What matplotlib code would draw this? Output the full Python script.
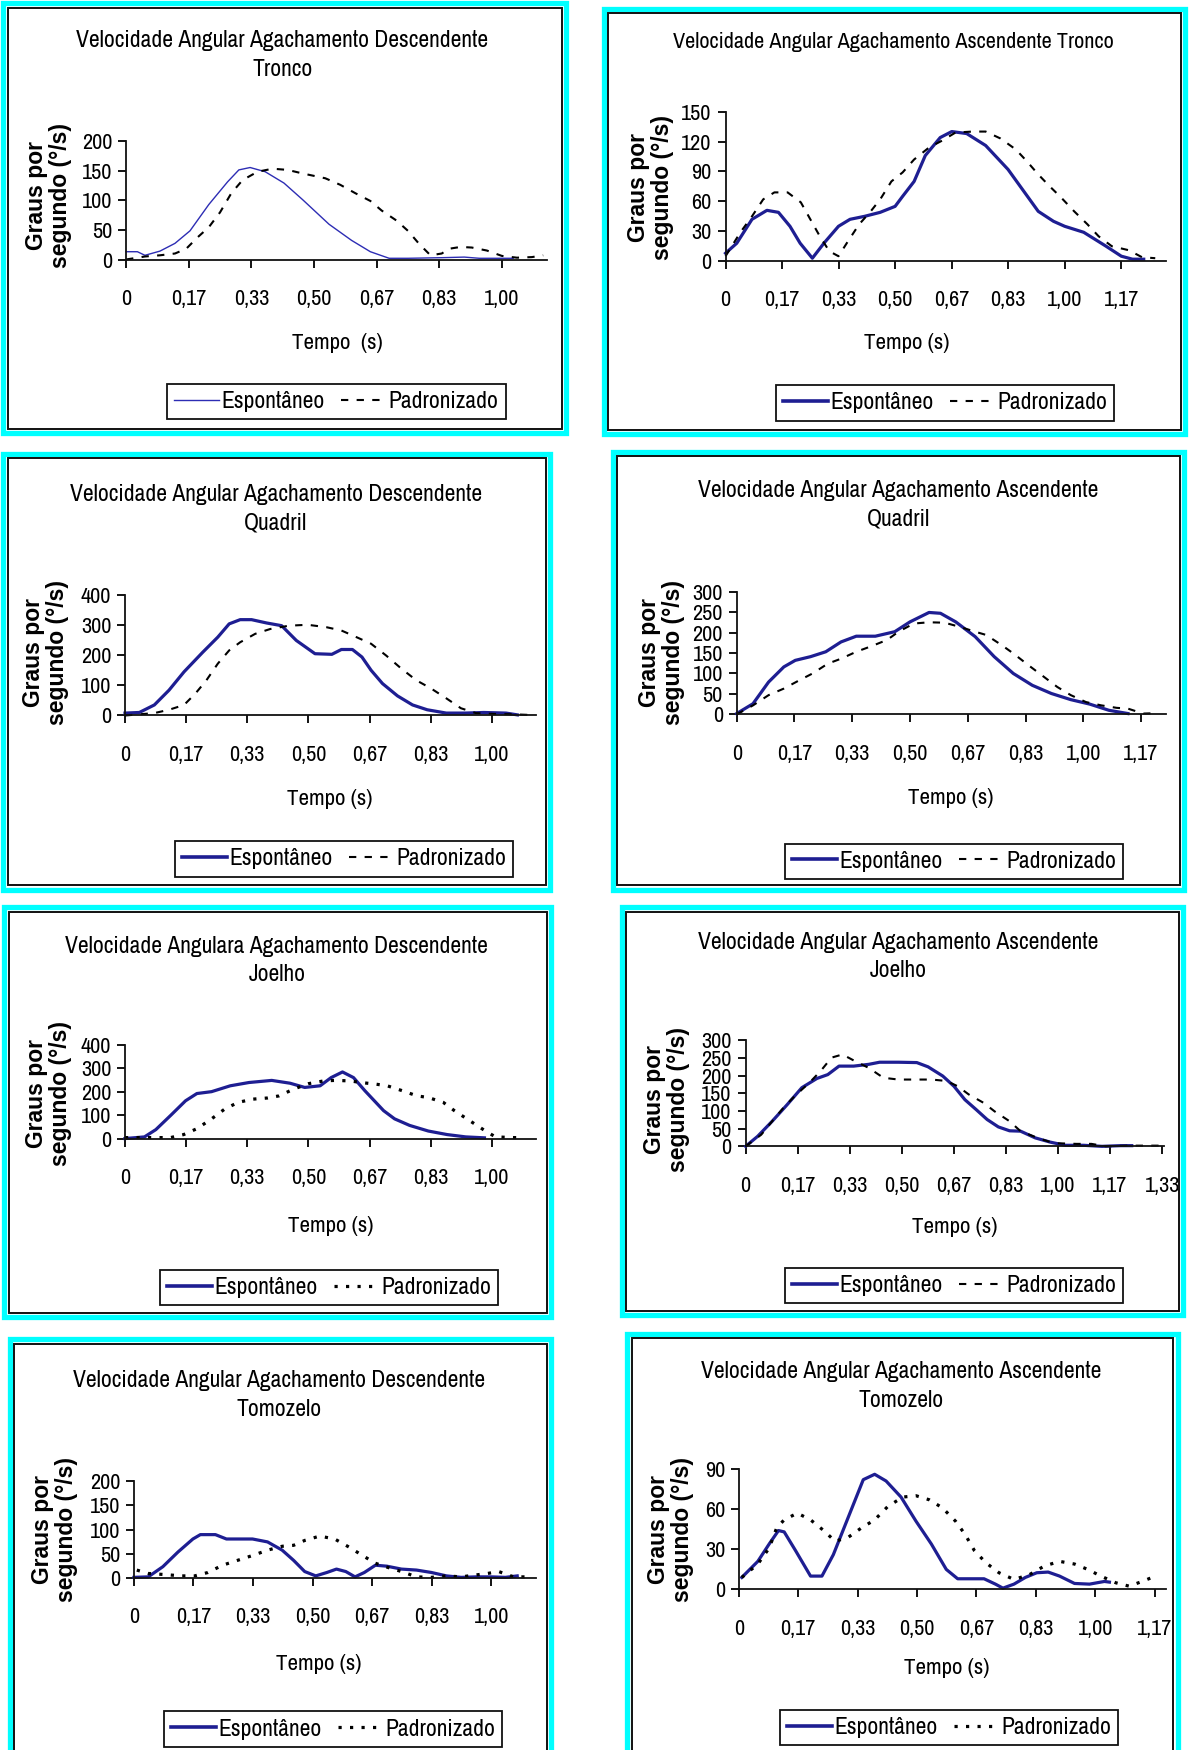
import matplotlib
matplotlib.use('Agg')
import matplotlib.pyplot as plt
from matplotlib import font_manager as fm
from matplotlib.patches import Rectangle
from matplotlib.lines import Line2D

# ---------------- data ----------------
TICK_LABELS = ['0', '0,17', '0,33', '0,50', '0,67', '0,83', '1,00', '1,17', '1,33']
SERIES_NAMES = ['Espontâneo', 'Padronizado']

TITLES = [
    'Velocidade Angular Agachamento Descendente\nTronco',
    'Velocidade Angular Agachamento Ascendente Tronco',
    'Velocidade Angular Agachamento Descendente\nQuadril',
    'Velocidade Angular Agachamento Ascendente\nQuadril',
    'Velocidade Angulara Agachamento Descendente\nJoelho',
    'Velocidade Angular Agachamento Ascendente\nJoelho',
    'Velocidade Angular Agachamento Descendente\nTomozelo',
    'Velocidade Angular Agachamento Ascendente\nTomozelo',
]
XLABELS = ['Tempo  (s)', 'Tempo (s)', 'Tempo (s)', 'Tempo (s)',
           'Tempo (s)', 'Tempo (s)', 'Tempo (s)', 'Tempo (s)']
YLABEL = 'Graus por\nsegundo (°/s)'

Y_MAX = [200, 150, 400, 300, 400, 300, 200, 90]
Y_STEP = [50, 30, 100, 50, 100, 50, 50, 30]
X_MAX = [1.12, 1.30, 1.12, 1.24, 1.12, 1.34, 1.125, 1.20]
N_XTICKS = [7, 8, 7, 8, 7, 9, 7, 8]

# Tronco descendente
TRONCO_DESC_ESP_T = [0.0, 0.03, 0.05, 0.09, 0.13, 0.17, 0.22, 0.27, 0.30, 0.33, 0.37, 0.42, 0.47, 0.54, 0.60, 0.65, 0.70, 0.75, 0.84, 0.90, 0.94, 1.03]
TRONCO_DESC_ESP_Y = [14, 14, 8, 15, 28, 49, 93, 131, 151, 155, 148, 129, 101, 60, 33, 14, 3, 3, 4, 5, 3, 3]
TRONCO_DESC_PAD_T = [0.0, 0.05, 0.09, 0.13, 0.16, 0.19, 0.22, 0.25, 0.28, 0.31, 0.35, 0.39, 0.43, 0.47, 0.53, 0.57, 0.61, 0.65, 0.68, 0.72, 0.75, 0.78, 0.81, 0.84, 0.86, 0.89, 0.92, 0.96, 1.00, 1.04, 1.08, 1.11]
TRONCO_DESC_PAD_Y = [1, 6, 8, 11, 19, 38, 55, 80, 112, 134, 148, 153, 151, 145, 137, 126, 112, 99, 83, 66, 49, 27, 8, 11, 19, 22, 21, 16, 7, 4, 5, 8]

# Tronco ascendente
TRONCO_ASC_ESP_T = [0, 0.033, 0.078, 0.122, 0.156, 0.19, 0.22, 0.256, 0.29, 0.333, 0.367, 0.41, 0.456, 0.5, 0.522, 0.556, 0.589, 0.633, 0.667, 0.711, 0.767, 0.833, 0.922, 0.967, 1.0, 1.056, 1.122, 1.167, 1.2, 1.233]
TRONCO_ASC_ESP_Y = [8, 18, 42, 51, 49, 35, 18, 3, 18, 35, 42, 45, 49, 55, 65, 80, 106, 124, 130, 128, 116, 92, 50, 40, 35, 29, 15, 5, 2, 2]
TRONCO_ASC_PAD_T = [0, 0.044, 0.078, 0.111, 0.144, 0.183, 0.222, 0.25, 0.278, 0.306, 0.333, 0.361, 0.394, 0.428, 0.456, 0.489, 0.522, 0.556, 0.6, 0.639, 0.678, 0.728, 0.767, 0.811, 0.856, 0.889, 0.922, 0.956, 0.989, 1.028, 1.067, 1.1, 1.139, 1.189, 1.228, 1.267]
TRONCO_ASC_PAD_Y = [5, 29, 45, 62, 69, 69, 59, 42, 25, 10, 5, 20, 37, 50, 62, 80, 89, 102, 114, 121, 129, 130, 130, 123, 112, 100, 87, 75, 64, 50, 37, 25, 15, 11, 4, 3]

# Quadril descendente
QUADRIL_DESC_ESP_T = [0, 0.039, 0.08, 0.12, 0.161, 0.212, 0.253, 0.284, 0.314, 0.345, 0.386, 0.427, 0.467, 0.518, 0.564, 0.59, 0.62, 0.646, 0.671, 0.702, 0.743, 0.784, 0.824, 0.876, 0.927, 0.978, 1.039, 1.07]
QUADRIL_DESC_ESP_Y = [8, 10, 35, 84, 145, 210, 260, 304, 318, 318, 307, 298, 249, 205, 203, 219, 219, 194, 150, 106, 65, 35, 19, 8, 8, 10, 8, 2]
QUADRIL_DESC_PAD_T = [0, 0.08, 0.12, 0.161, 0.192, 0.222, 0.253, 0.284, 0.314, 0.355, 0.396, 0.447, 0.498, 0.549, 0.59, 0.631, 0.671, 0.712, 0.753, 0.794, 0.834, 0.876, 0.916, 0.957, 1.008, 1.059, 1.1]
QUADRIL_DESC_PAD_Y = [0, 8, 19, 35, 73, 117, 172, 216, 243, 271, 287, 298, 301, 293, 282, 260, 238, 199, 156, 117, 90, 57, 24, 8, 5, 4, 2]

# Quadril ascendente
QUADRIL_ASC_ESP_T = [0, 0.047, 0.092, 0.136, 0.169, 0.213, 0.257, 0.301, 0.345, 0.4, 0.456, 0.5, 0.555, 0.588, 0.632, 0.688, 0.743, 0.798, 0.853, 0.908, 0.964, 1.019, 1.074, 1.129]
QUADRIL_ASC_ESP_Y = [2, 26, 79, 116, 132, 141, 153, 177, 191, 191, 202, 226, 249, 247, 226, 190, 141, 100, 71, 51, 36, 25, 10, 2]
QUADRIL_ASC_PAD_T = [0, 0.047, 0.092, 0.136, 0.18, 0.219, 0.263, 0.301, 0.345, 0.39, 0.434, 0.467, 0.511, 0.555, 0.6, 0.643, 0.688, 0.72, 0.765, 0.798, 0.842, 0.886, 0.925, 0.964, 1.008, 1.052, 1.096, 1.129, 1.173, 1.217]
QUADRIL_ASC_PAD_Y = [0, 22, 47, 63, 83, 100, 124, 136, 153, 167, 182, 202, 222, 225, 224, 214, 202, 194, 169, 149, 120, 92, 67, 47, 30, 22, 16, 14, 2, 3]

# Joelho descendente
JOELHO_DESC_ESP_T = [0, 0.053, 0.084, 0.124, 0.165, 0.196, 0.236, 0.287, 0.338, 0.4, 0.45, 0.49, 0.532, 0.562, 0.593, 0.623, 0.654, 0.684, 0.705, 0.735, 0.776, 0.827, 0.878, 0.929, 0.98]
JOELHO_DESC_ESP_Y = [0, 7, 38, 98, 161, 192, 200, 225, 239, 248, 236, 218, 225, 260, 284, 260, 204, 154, 119, 84, 56, 32, 17, 7, 3]
JOELHO_DESC_PAD_T = [0, 0.084, 0.124, 0.16, 0.196, 0.236, 0.272, 0.308, 0.348, 0.389, 0.42, 0.46, 0.5, 0.542, 0.572, 0.613, 0.643, 0.684, 0.715, 0.756, 0.796, 0.827, 0.868, 0.898, 0.939, 0.98, 1.01, 1.06, 1.08]
JOELHO_DESC_PAD_Y = [4, 4, 4, 17, 42, 84, 126, 154, 168, 173, 182, 211, 234, 246, 248, 246, 239, 232, 225, 204, 182, 175, 154, 119, 77, 35, 7, 4, 4]

# Joelho ascendente
JOELHO_ASC_ESP_T = [0, 0.038, 0.085, 0.133, 0.18, 0.228, 0.263, 0.299, 0.346, 0.394, 0.429, 0.489, 0.548, 0.584, 0.631, 0.667, 0.702, 0.738, 0.773, 0.809, 0.845, 0.88, 0.927, 0.975, 1.023, 1.082, 1.141, 1.2, 1.236]
JOELHO_ASC_ESP_Y = [0, 28, 71, 118, 166, 192, 203, 227, 227, 232, 238, 238, 237, 225, 199, 170, 132, 104, 76, 55, 44, 43, 24, 12, 3, 3, 0, 2, 2]
JOELHO_ASC_PAD_T = [0, 0.05, 0.085, 0.121, 0.157, 0.204, 0.24, 0.275, 0.31, 0.346, 0.394, 0.441, 0.489, 0.536, 0.595, 0.643, 0.679, 0.714, 0.762, 0.797, 0.845, 0.88, 0.94, 0.987, 1.059, 1.107, 1.153, 1.224, 1.33]
JOELHO_ASC_PAD_Y = [0, 33, 71, 109, 142, 180, 213, 251, 260, 243, 222, 194, 189, 189, 189, 185, 170, 147, 123, 99, 71, 43, 22, 9, 7, 7, 0, 2, 2]

# Tornozelo descendente
TORNOZELO_DESC_ESP_T = [0, 0.04, 0.081, 0.123, 0.165, 0.186, 0.228, 0.259, 0.332, 0.374, 0.415, 0.447, 0.478, 0.509, 0.54, 0.567, 0.593, 0.619, 0.645, 0.676, 0.708, 0.749, 0.791, 0.833, 0.875, 0.916, 0.958, 1.0, 1.04, 1.073]
TORNOZELO_DESC_ESP_Y = [2, 3, 24, 54, 81, 90, 90, 81, 81, 75, 58, 37, 14, 5, 12, 19, 14, 3, 12, 27, 25, 19, 17, 12, 5, 2, 3, 3, 2, 5]
TORNOZELO_DESC_PAD_T = [0.008, 0.04, 0.081, 0.134, 0.17, 0.207, 0.248, 0.29, 0.332, 0.374, 0.415, 0.447, 0.478, 0.52, 0.562, 0.603, 0.64, 0.676, 0.713, 0.749, 0.791, 0.833, 0.875, 0.916, 0.958, 0.99, 1.021, 1.063, 1.105]
TORNOZELO_DESC_PAD_Y = [17, 10, 8, 5, 5, 12, 27, 37, 47, 58, 66, 68, 78, 87, 81, 64, 47, 31, 22, 14, 3, 2, 5, 3, 7, 10, 14, 3, 3]

# Tornozelo ascendente
TORNOZELO_ASC_ESP_T = [0.008, 0.053, 0.085, 0.111, 0.127, 0.159, 0.201, 0.233, 0.265, 0.307, 0.349, 0.381, 0.413, 0.455, 0.497, 0.54, 0.582, 0.614, 0.646, 0.688, 0.72, 0.741, 0.772, 0.804, 0.836, 0.868, 0.9, 0.942, 0.984, 1.026, 1.04]
TORNOZELO_ASC_ESP_Y = [9, 21, 34, 44, 43, 29, 10, 10, 26, 54, 82, 86, 81, 69, 51, 34, 15, 8, 8, 8, 4, 1, 4, 9, 12.5, 13, 10, 4.5, 4, 6, 5.5]
TORNOZELO_ASC_PAD_T = [0.008, 0.053, 0.085, 0.106, 0.127, 0.164, 0.201, 0.238, 0.27, 0.307, 0.344, 0.381, 0.418, 0.46, 0.497, 0.534, 0.571, 0.608, 0.635, 0.661, 0.693, 0.73, 0.772, 0.815, 0.857, 0.9, 0.942, 0.979, 1.016, 1.058, 1.095, 1.132, 1.169]
TORNOZELO_ASC_PAD_Y = [9, 19, 31, 46, 52, 57, 52, 44, 36, 39, 46, 52, 62, 69, 70, 67, 61, 51, 41, 29, 20, 12.5, 7.5, 11, 17.5, 21, 19, 15, 10, 5, 2.5, 6, 10]

ESP_SERIES = [
    (TRONCO_DESC_ESP_T, TRONCO_DESC_ESP_Y), (TRONCO_ASC_ESP_T, TRONCO_ASC_ESP_Y),
    (QUADRIL_DESC_ESP_T, QUADRIL_DESC_ESP_Y), (QUADRIL_ASC_ESP_T, QUADRIL_ASC_ESP_Y),
    (JOELHO_DESC_ESP_T, JOELHO_DESC_ESP_Y), (JOELHO_ASC_ESP_T, JOELHO_ASC_ESP_Y),
    (TORNOZELO_DESC_ESP_T, TORNOZELO_DESC_ESP_Y), (TORNOZELO_ASC_ESP_T, TORNOZELO_ASC_ESP_Y),
]
PAD_SERIES = [
    (TRONCO_DESC_PAD_T, TRONCO_DESC_PAD_Y), (TRONCO_ASC_PAD_T, TRONCO_ASC_PAD_Y),
    (QUADRIL_DESC_PAD_T, QUADRIL_DESC_PAD_Y), (QUADRIL_ASC_PAD_T, QUADRIL_ASC_PAD_Y),
    (JOELHO_DESC_PAD_T, JOELHO_DESC_PAD_Y), (JOELHO_ASC_PAD_T, JOELHO_ASC_PAD_Y),
    (TORNOZELO_DESC_PAD_T, TORNOZELO_DESC_PAD_Y), (TORNOZELO_ASC_PAD_T, TORNOZELO_ASC_PAD_Y),
]

# ---------------- layout (reference coords at 1067 px width) ----------------
BOXES = [(3, 3, 507, 388), (541, 8, 1062, 389), (3, 407, 493, 797), (549, 405, 1061, 797),
         (4, 813, 494, 1180), (557, 813, 1060, 1178), (9, 1200, 494, 1585), (562, 1195, 1055, 1585)]
AXES = [  # left, top, bottom, right
    (113, 126, 233, 490), (650, 100, 234, 1045), (112, 533, 641, 480), (660, 530, 640, 1045),
    (112, 936, 1020, 480), (668, 932, 1027, 1043), (120, 1327, 1414, 480), (662, 1316, 1424, 1045)]
TITLE_POS = [(253, 49.5), (800, 38), (247, 456), (805, 452.5), (248, 860.5), (805, 857), (250, 1249.5), (807, 1241.5)]
XLAB_POS = [(302, 307), (812, 307), (295, 716), (852, 715), (296, 1098), (855, 1099), (286, 1491), (848, 1494)]
YLAB_POS = [(43.5, 175), (583, 168), (41, 585), (593, 585), (43.5, 980), (597, 985), (49, 1370), (601, 1370)]
LEG_POS = [(301.5, 360), (846.5, 361), (308.5, 769.5), (854.5, 771.5), (295, 1153.5), (855, 1151.5), (298.5, 1549), (850, 1548)]
ESP_LW = [1.0, 2.3, 2.3, 2.3, 2.3, 2.3, 2.3, 2.3]
DOTTED = [False, False, False, False, True, False, True, True]

W, H, DPI = 1191, 1750, 100
S = W / 1067.0

names = {f.name for f in fm.fontManager.ttflist}
NARROW = 'Liberation Sans Narrow'
K = 1.0
for cand in ['Liberation Sans Narrow', 'Arial Narrow', 'Archivo Narrow', 'PT Sans Narrow',
             'Roboto Condensed', 'IBM Plex Sans Condensed', 'Fira Sans Condensed']:
    if cand in names:
        NARROW = cand
        break
else:
    NARROW, K = 'Liberation Sans', 0.82
BOLDF = 'Liberation Sans' if 'Liberation Sans' in names else 'DejaVu Sans'

plt.rcParams['font.family'] = [NARROW, 'DejaVu Sans']


def FX(x):
    return x * S / W


def FY(y):
    return 1 - y * S / H


fig = plt.figure(figsize=(W / DPI, H / DPI), dpi=DPI)
fig.patch.set_facecolor('white')

BLUE = '#1e1e92'
BLUE_THIN = '#2d2db4'

for i in range(8):
    x0, y0, x1, y1 = BOXES[i]
    fig.patches.append(Rectangle((FX(x0), FY(y1)), FX(x1) - FX(x0), FY(y0) - FY(y1),
                                 transform=fig.transFigure, fill=False,
                                 edgecolor='#00FFFF', lw=3.8, zorder=5))
    ins = 4.2 / S
    fig.patches.append(Rectangle((FX(x0 + ins), FY(y1 - ins)), FX(x1 - ins) - FX(x0 + ins),
                                 FY(y0 + ins) - FY(y1 - ins),
                                 transform=fig.transFigure, fill=False,
                                 edgecolor='#111111', lw=1.4, zorder=6))

    l, t, b, r = AXES[i]
    ax = fig.add_axes([FX(l), FY(b), FX(r) - FX(l), FY(t) - FY(b)])
    ax.set_facecolor('none')
    et, ey = ESP_SERIES[i]
    pt, py = PAD_SERIES[i]
    ax.plot(et, ey, color=BLUE_THIN if i == 0 else BLUE, lw=ESP_LW[i], solid_joinstyle='round', clip_on=False)
    if DOTTED[i]:
        pad_kw = dict(color='black', lw=2.3, linestyle=(0, (1.0, 2.6)))
    else:
        pad_kw = dict(color='black', lw=1.5, linestyle=(0, (3.5, 4.0)))
    ax.plot(pt, py, clip_on=False, **pad_kw)

    ax.set_xlim(0, X_MAX[i])
    ax.set_ylim(0, Y_MAX[i])
    ax.set_xticks([k / 6 for k in range(N_XTICKS[i])])
    ax.set_xticklabels(TICK_LABELS[:N_XTICKS[i]])
    ax.set_yticks(list(range(0, Y_MAX[i] + 1, Y_STEP[i])))
    for s in ['top', 'right']:
        ax.spines[s].set_visible(False)
    for s in ['left', 'bottom']:
        ax.spines[s].set_linewidth(1.3)
        ax.spines[s].set_color('#111111')
    ax.tick_params(axis='x', length=6, width=1.3, pad=15, labelsize=16 * K, direction='out')
    ax.tick_params(axis='y', length=6, width=1.3, pad=4, labelsize=16 * K, direction='out')

    tx, ty = TITLE_POS[i]
    fig.text(FX(tx), FY(ty), TITLES[i], ha='center', va='center', fontsize=(16 if i == 1 else 17) * K,
             linespacing=1.45, family=NARROW)
    xx, xy = XLAB_POS[i]
    fig.text(FX(xx), FY(xy), XLABELS[i], ha='center', va='center', fontsize=16.5 * K, family=NARROW)
    yx, yy = YLAB_POS[i]
    fig.text(FX(yx), FY(yy), YLABEL, ha='center', va='center', rotation=90, fontsize=16.5,
             fontweight='bold', family=BOLDF, multialignment='center', linespacing=1.05)

    h1 = Line2D([], [], color=BLUE_THIN if i == 0 else BLUE, lw=ESP_LW[i] if i == 0 else 2.6)
    h2 = Line2D([], [], **pad_kw)
    lx, ly = LEG_POS[i]
    leg = fig.legend([h1, h2], SERIES_NAMES, loc='center', bbox_to_anchor=(FX(lx), FY(ly)),
                     ncol=2, frameon=True, fancybox=False, edgecolor='#111111', framealpha=1,
                     handlelength=1.9, handletextpad=0.1, columnspacing=0.7, borderpad=0.3,
                     prop=dict(family=NARROW, size=17 * K))
    leg.get_frame().set_linewidth(1.3)

fig.savefig('out.png', dpi=DPI, facecolor='white')
